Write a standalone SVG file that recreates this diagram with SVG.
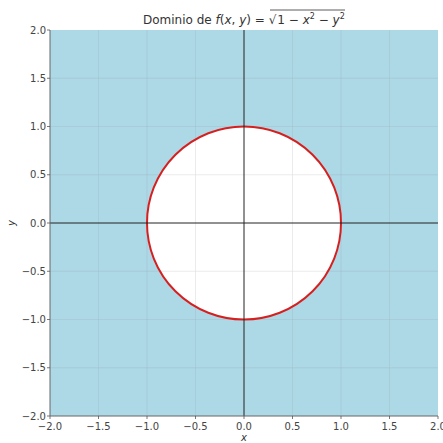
<svg xmlns="http://www.w3.org/2000/svg" width="443" height="443" viewBox="0 0 443 443">
<style>
.tick{font-family:"DejaVu Sans",sans-serif;font-size:10px;fill:#444}
.grid{stroke:#9fb8c2;stroke-width:0.6;opacity:0.6}
.tk{stroke:#555;stroke-width:0.8}
.ax{stroke:#222;stroke-width:1}
</style>
<rect width="443" height="443" fill="#fff"/>
<g id="plot">
<rect x="50" y="30" width="388" height="386" fill="#add8e6"/>
<g id="grid">
<line class="grid" x1="98.5" y1="30" x2="98.5" y2="416"/>
<line class="grid" x1="147" y1="30" x2="147" y2="416"/>
<line class="grid" x1="195.5" y1="30" x2="195.5" y2="416"/>
<line class="grid" x1="292.5" y1="30" x2="292.5" y2="416"/>
<line class="grid" x1="341" y1="30" x2="341" y2="416"/>
<line class="grid" x1="389.5" y1="30" x2="389.5" y2="416"/>
<line class="grid" x1="50" y1="78.25" x2="438" y2="78.25"/>
<line class="grid" x1="50" y1="126.5" x2="438" y2="126.5"/>
<line class="grid" x1="50" y1="174.75" x2="438" y2="174.75"/>
<line class="grid" x1="50" y1="271.25" x2="438" y2="271.25"/>
<line class="grid" x1="50" y1="319.5" x2="438" y2="319.5"/>
<line class="grid" x1="50" y1="367.75" x2="438" y2="367.75"/>
</g>
<ellipse id="disk" cx="244" cy="223" rx="97" ry="96.5" fill="#fff"/>
<g id="innergrid" clip-path="url(#c)">
<clipPath id="c"><ellipse cx="244" cy="223" rx="97" ry="96.5"/></clipPath>
<line class="grid" x1="195.5" y1="30" x2="195.5" y2="416" style="stroke:#ddd;opacity:1"/>
<line class="grid" x1="292.5" y1="30" x2="292.5" y2="416" style="stroke:#ddd;opacity:1"/>
<line class="grid" x1="50" y1="174.75" x2="438" y2="174.75" style="stroke:#ddd;opacity:1"/>
<line class="grid" x1="50" y1="271.25" x2="438" y2="271.25" style="stroke:#ddd;opacity:1"/>
</g>
<ellipse id="boundary" cx="244" cy="223" rx="97" ry="96.5" fill="none" stroke="#d62020" stroke-width="2"/>
<line class="ax" x1="244" y1="30" x2="244" y2="416"/>
<line class="ax" x1="50" y1="223" x2="438" y2="223"/>
<line x1="50" y1="30" x2="50" y2="416" stroke="#666" stroke-width="1"/>
<line x1="50" y1="416" x2="438" y2="416" stroke="#666" stroke-width="1"/>
</g>
<g id="xticks">
<line class="tk" x1="50" y1="416" x2="50" y2="419"/>
<line class="tk" x1="98.5" y1="416" x2="98.5" y2="419"/>
<line class="tk" x1="147" y1="416" x2="147" y2="419"/>
<line class="tk" x1="195.5" y1="416" x2="195.5" y2="419"/>
<line class="tk" x1="244" y1="416" x2="244" y2="419"/>
<line class="tk" x1="292.5" y1="416" x2="292.5" y2="419"/>
<line class="tk" x1="341" y1="416" x2="341" y2="419"/>
<line class="tk" x1="389.5" y1="416" x2="389.5" y2="419"/>
<line class="tk" x1="438" y1="416" x2="438" y2="419"/>
<g class="tick" text-anchor="middle">
<text x="50" y="430">−2.0</text>
<text x="98.5" y="430">−1.5</text>
<text x="147" y="430">−1.0</text>
<text x="195.5" y="430">−0.5</text>
<text x="244" y="430">0.0</text>
<text x="292.5" y="430">0.5</text>
<text x="341" y="430">1.0</text>
<text x="389.5" y="430">1.5</text>
<text x="438" y="430">2.0</text>
</g>
</g>
<g id="yticks">
<line class="tk" x1="47" y1="30" x2="50" y2="30"/>
<line class="tk" x1="47" y1="78.25" x2="50" y2="78.25"/>
<line class="tk" x1="47" y1="126.5" x2="50" y2="126.5"/>
<line class="tk" x1="47" y1="174.75" x2="50" y2="174.75"/>
<line class="tk" x1="47" y1="223" x2="50" y2="223"/>
<line class="tk" x1="47" y1="271.25" x2="50" y2="271.25"/>
<line class="tk" x1="47" y1="319.5" x2="50" y2="319.5"/>
<line class="tk" x1="47" y1="367.75" x2="50" y2="367.75"/>
<line class="tk" x1="47" y1="416" x2="50" y2="416"/>
<g class="tick" text-anchor="end">
<text x="46" y="33.5">2.0</text>
<text x="46" y="81.75">1.5</text>
<text x="46" y="130">1.0</text>
<text x="46" y="178.25">0.5</text>
<text x="46" y="226.5">0.0</text>
<text x="46" y="274.75">−0.5</text>
<text x="46" y="323">−1.0</text>
<text x="46" y="371.25">−1.5</text>
<text x="46" y="419.5">−2.0</text>
</g>
</g>
<g id="labels" font-family="DejaVu Sans, sans-serif" fill="#333">
<text x="244" y="441" font-size="10" font-style="italic" text-anchor="middle">x</text>
<text x="0" y="0" font-size="10" font-style="italic" text-anchor="middle" transform="translate(15,223) rotate(-90)">y</text>
</g>
<g id="title" font-family="DejaVu Sans, sans-serif" font-size="12" fill="#333">
<text x="143" y="24">Dominio de <tspan font-style="italic">f</tspan>(<tspan font-style="italic">x</tspan>, <tspan font-style="italic">y</tspan>) = √<tspan dx="1">1 − </tspan><tspan font-style="italic">x</tspan><tspan font-size="8" dy="-5">2</tspan><tspan dy="5"> − </tspan><tspan font-style="italic">y</tspan><tspan font-size="8" dy="-5">2</tspan></text>
<line x1="270" y1="10" x2="345" y2="10" stroke="#333" stroke-width="0.8"/>
</g>
</svg>
